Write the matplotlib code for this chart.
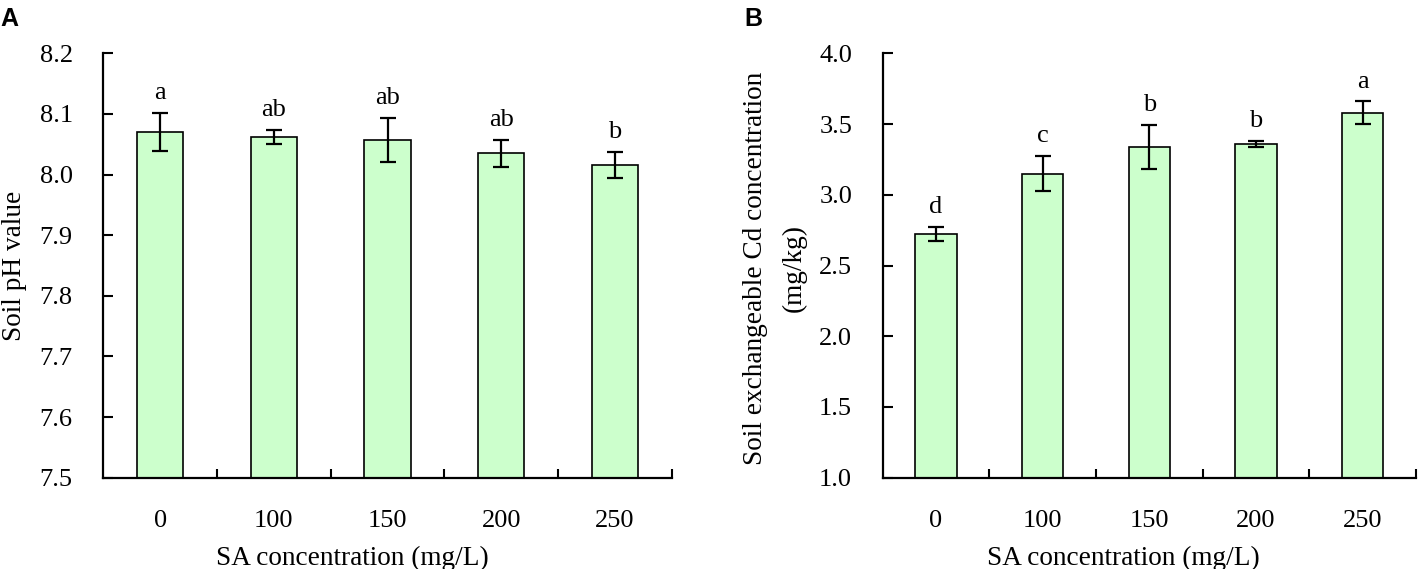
import matplotlib
matplotlib.use("Agg")
import matplotlib.pyplot as plt
import numpy as np

# data
sa_conc = ["0", "100", "150", "200", "250"]
ph_mean = [8.070, 8.062, 8.057, 8.035, 8.016]
ph_err = [0.031, 0.012, 0.037, 0.022, 0.021]
ph_letters = ["a", "ab", "ab", "ab", "b"]
cd_mean = [2.72, 3.15, 3.34, 3.36, 3.58]
cd_err = [0.05, 0.125, 0.155, 0.02, 0.08]
cd_letters = ["d", "c", "b", "b", "a"]

plt.rcParams['font.family'] = ['Liberation Serif', 'DejaVu Serif']
plt.rcParams['font.size'] = 19

W, H = 1418, 569
fig = plt.figure(figsize=(W / 100, H / 100), dpi=100)
# axes placed in pixel terms of the reference
axA = fig.add_axes([103.3 / W, 1 - 477.7 / H, 568.4 / W, 424.4 / H])
axB = fig.add_axes([882.7 / W, 1 - 477.7 / H, 533.3 / W, 424.4 / H])


def bar_panel(ax, means, errs, letters, ylim, yticks, bw, label_x):
    x = np.arange(len(means))
    ax.bar(x, means, width=bw, color="#ccffcc", edgecolor="black",
           linewidth=1.2, zorder=2)
    ax.errorbar(x, means, yerr=errs, fmt="none", ecolor="black",
                elinewidth=1.6, capsize=6, capthick=1.6, zorder=3)
    for xi, m, e, lab in zip(x, means, errs, letters):
        ax.annotate(lab, (xi, m + e), xytext=(0, 10), textcoords="offset points",
                    ha="center", va="baseline", fontsize=19)
    ax.set_xlim(-0.5, len(means) - 0.5)
    ax.set_ylim(*ylim)
    ax.set_yticks(yticks)
    ax.set_yticklabels(["%.1f" % v for v in yticks])
    ax.set_xticks(x)
    ax.set_xticklabels(sa_conc)
    ax.set_xticks(np.arange(0.5, len(means)), minor=True)
    ax.tick_params(axis="x", which="major", length=0, pad=23)
    ax.tick_params(axis="x", which="minor", direction="in", length=6.5, width=1.5)
    ax.tick_params(axis="y", direction="in", length=7, width=1.5, pad=22)
    for s in ["top", "right"]:
        ax.spines[s].set_visible(False)
    for s in ["left", "bottom"]:
        ax.spines[s].set_linewidth(1.6)
    ax.set_xlabel("SA concentration (mg/L)", fontsize=19.6, labelpad=10)
    # the title sits a little left of the plot centre, as in the original
    ax.xaxis.label.set_x(label_x)


bar_panel(axA, ph_mean, ph_err, ph_letters, (7.5, 8.2),
          np.arange(7.5, 8.21, 0.1), 0.41, 0.4375)
bar_panel(axB, cd_mean, cd_err, cd_letters, (1.0, 4.0),
          np.arange(1.0, 4.01, 0.5), 0.39, 0.4506)

fig.text(15 / W, 1 - 265.5 / H, "Soil pH value", rotation=90,
         ha="center", va="center", fontsize=19.6)
fig.text(775 / W, 1 - 268 / H, "Soil exchangeable Cd concentration\n(mg/kg)",
         rotation=90, ha="center", va="center", multialignment="center",
         linespacing=1.7, fontsize=19.6)

fig.text(0.0, 1 - 7 / H, "A", fontsize=18, fontweight="bold",
         family="Liberation Sans", va="top", ha="left")
fig.text(744 / W, 1 - 7 / H, "B", fontsize=18, fontweight="bold",
         family="Liberation Sans", va="top", ha="left")

fig.savefig("out.png", dpi=100)
plt.close(fig)
